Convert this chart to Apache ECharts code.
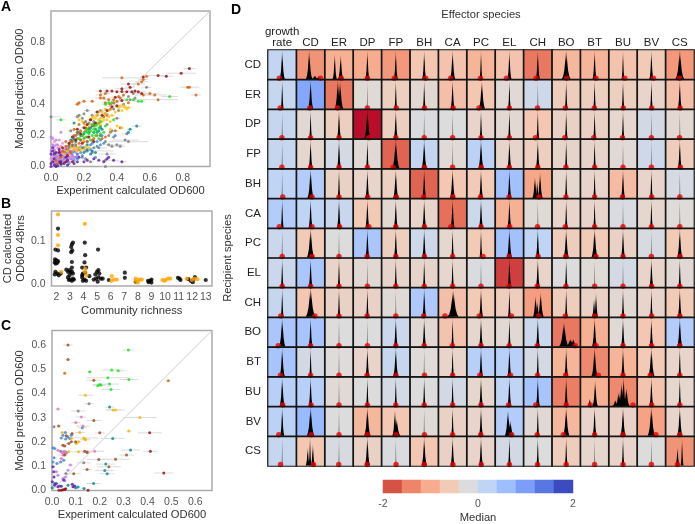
<!DOCTYPE html>
<html><head><meta charset="utf-8">
<style>html,body{margin:0;padding:0;background:#fff}#c{width:695px;height:524px}</style>
<script src="https://cdn.jsdelivr.net/npm/echarts@6/dist/echarts.min.js"></script>
</head><body><div id="c"></div>
<script>
// ---------- Panel A: [experiment, prediction, error]
const aDarkRed=[[.84,.63,.035],[.79,.6,.09],[.65,.585,.06],[.7,.58,.04],[.56,.575,.02],[.47,.53,.05],[.48,.51,.03],[.43,.5,.04],[.3,.485,.03],[.34,.485,.02],[.37,.485,.03],[.4,.48,.05],[.43,.482,.04],[.46,.48,.03],[.49,.48,.03],[.51,.485,.02],[.53,.48,.05],[.55,.47,.04],[.39,.445,.03],[.43,.425,.02],[.4,.39,.02],[.37,.385,.03],[.34,.36,.02],[.28,.35,.02],[.31,.33,.03],[.24,.3,.02],[.27,.28,.02],[.22,.27,.02],[.2,.25,.02],[.16,.24,.02],[.18,.21,.02],[.13,.19,.02],[.11,.15,.02],[.07,.12,.01],[.05,.09,.01],[.1,.07,.01],[.13,.03,.02],[.09,.03,.01],[.06,.02,.01],[.15,.17,.01],[.19,.15,.01],[.23,.19,.01],[.26,.16,.01]];
const aOrange=[[.58,.58,.01],[.43,.57,.12],[.56,.56,.03],[.55,.545,.04],[.53,.53,.04],[.83,.51,.03],[.84,.51,.06],[.88,.46,.03],[.65,.43,.12],[.63,.46,.07],[.6,.47,.05],[.56,.46,.05],[.33,.47,.03],[.3,.46,.03],[.3,.44,.03],[.32,.44,.04],[.35,.43,.03],[.33,.41,.02],[.25,.42,.02],[.2,.42,.02],[.17,.41,.02],[.16,.4,.02],[.42,.44,.03],[.4,.42,.04],[.38,.41,.03],[.36,.4,.03],[.24,.3],[.2,.28],[.17,.27],[.14,.24],[.19,.2],[.16,.18],[.14,.2],[.22,.19],[.26,.18],[.25,.17],[.28,.2],[.22,.16],[.17,.15],[.13,.13],[.1,.11],[.08,.09],[.12,.09],[.06,.06],[.03,.04],[.04,.02],[.2,.16],[.18,.17],[.15,.14],[.12,.16],[.09,.13],[.07,.1],[.42,.25],[.39,.23,.02],[.36,.22],[.33,.19],[.31,.18],[.47,.41],[.44,.46],[.41,.45],[.38,.43],[.36,.37],[.34,.33],[.32,.32],[.29,.28],[.26,.26],[.23,.25],[.21,.23],[.18,.23],[.16,.21],[.13,.16],[.11,.14],[.09,.16]];
const aGreen=[[.72,.45,.05],[.53,.42,.03],[.55,.42,.02],[.5,.43,.03],[.46,.43,.03],[.35,.41,.03],[.37,.41,.03],[.33,.4,.02],[.06,.3,.03],[.25,.27],[.27,.26],[.3,.29],[.33,.26],[.38,.3],[.29,.25],[.26,.24],[.28,.23],[.24,.23],[.22,.22],[.2,.22],[.23,.21],[.25,.2],[.27,.2],[.3,.21],[.32,.22],[.19,.2],[.17,.18],[.21,.19],[.24,.17],[.29,.18],[.26,.22],[.28,.27],[.22,.24]];
const aGold=[[.33,.37,.02],[.35,.36,.02],[.31,.35,.02],[.29,.35,.02],[.33,.34,.02],[.37,.33,.02],[.42,.39,.02],[.44,.39,.02],[.45,.38,.02],[.47,.38,.02],[.41,.38,.02],[.26,.32],[.28,.33],[.3,.31,.02],[.19,.29],[.17,.3],[.17,.12,.02],[.15,.12,.02],[.18,.11,.02],[.2,.11,.02],[.21,.13,.02],[.12,.12],[.43,.25],[.4,.26],[.36,.24],[.1,.1],[.08,.08],[.32,.3],[.35,.32],[.24,.27],[.21,.26],[.25,.31],[.27,.31],[.29,.3],[.31,.29],[.34,.3],[.39,.35],[.43,.36],[.46,.37],[.36,.29],[.3,.27],[.2,.17],[.16,.1],[.14,.11],[.23,.12]];
const aTeal=[[.52,.26,.03],[.48,.24,.02],[.47,.22],[.25,.1],[.27,.09],[.24,.08],[.22,.14],[.19,.12],[.13,.14],[.23,.24],[.26,.22],[.3,.2],[.28,.22],[.25,.26],[.3,.25],[.18,.17],[.15,.16],[.13,.07],[.08,.06],[.1,.05],[.03,.02],[.14,.28],[.16,.22],[.11,.13],[.2,.18],[.21,.25],[.24,.25],[.27,.24],[.26,.27],[.29,.23],[.23,.22],[.2,.21],[.31,.24],[.18,.2],[.14,.18],[.12,.17],[.17,.11],[.2,.09],[.22,.11],[.16,.08],[.11,.1],[.06,.09],[.05,.07],[.14,.1],[.09,.11]];
const aGray=[[.0,.32,.06],[.17,.33,.02],[.16,.32,.02],[.22,.36,.02],[.3,.36,.02],[.28,.33,.02],[.33,.34,.02],[.46,.21,.03],[.45,.17,.08],[.47,.16,.12],[.4,.14,.04],[.37,.13,.02],[.42,.13,.03],[.35,.14,.02],[.34,.08,.05],[.33,.0,.03],[.26,.12,.08],[.22,.1,.16],[.12,.23,.02],[.15,.2,.02],[.21,.05,.02],[.24,.03,.02],[.33,.04,.02],[.58,.51,.03],[.4,.31,.02],[.2,.34],[.25,.33],[.19,.31],[.21,.29],[.26,.29],[.23,.28],[.3,.26],[.34,.27],[.35,.2],[.38,.19],[.33,.16],[.29,.12],[.25,.09],[.17,.22],[.13,.17],[.11,.12],[.19,.07],[.44,.4],[.5,.47],[.47,.45],[.51,.44],[.38,.37],[.41,.36],[.48,.43]];
const aPurple=[[.43,.03,.03],[.38,.04,.03],[.35,.06],[.34,.05],[.29,.04],[.32,.03],[.26,.05],[.22,.04],[.2,.03],[.16,.03],[.17,.06],[.14,.02],[.1,.01],[.05,.03],[.01,.12],[.01,.1],[.03,.09],[.02,.05],[.0,.08],[.01,.03],[.02,.01],[.04,.005],[.08,.02],[.06,.07],[.05,.11],[.09,.06],[.0,.02],[.03,.0],[.1,.04],[.0,.0],[.06,.03],[.02,.08]];
const aPink=[[.05,.17,.02],[.02,.16],[.03,.14],[.05,.12],[.07,.15],[.1,.1],[.08,.08],[.04,.07],[.02,.06],[.11,.08],[.13,.07],[.06,.05],[.09,.05],[.03,.03],[.18,.13],[.16,.11],[.06,.09],[.04,.04],[.12,.06],[.0,.05],[.06,.13],[.08,.11],[.1,.07],[.02,.1],[.07,.03],[.04,.12],[.03,.08],[.09,.1],[.13,.1],[.01,.04],[.05,.06],[.08,.06],[.11,.05]];
const aViolet=[[.0,.19,.02],[.01,.18],[.03,.17],[.01,.14],[.06,.22],[.05,.1],[.02,.11],[.12,.1],[.1,.13],[.09,.12],[.15,.09],[.13,.05],[.07,.04],[.05,.02],[.11,.03],[.03,.06],[.07,.07],[.04,.09],[.01,.07],[.08,.03],[.02,.02],[.14,.11],[.16,.07],[.06,.08],[.09,.09],[.02,.13],[.04,.14],[.07,.1],[.1,.06],[.12,.08],[.03,.04],[.06,.06],[.0,.1],[.14,.06]];
const aBlue=[[.31,.2],[.3,.17],[.28,.16],[.32,.15],[.3,.14],[.28,.13],[.24,.14],[.24,.11],[.2,.12],[.18,.09],[.13,.09],[.15,.06],[.12,.05],[.1,.03],[.05,.05],[.08,.05],[.07,.02],[.02,.03],[.03,.01],[.06,.01],[.27,.06],[.37,.23],[.39,.2],[.04,.06],[.09,.08],[.11,.06],[.22,.16],[.25,.15],[.21,.1],[.17,.12],[.15,.13],[.16,.05],[.19,.06],[.14,.04],[.02,.09],[.01,.05],[.06,.04],[.1,.09],[.03,.07],[.11,.02]];

// ---------- Panel B: [richness (jittered), OD600]
const bBlack=[[2.12,.129],[1.93,.08],[2.12,.078],[1.9,.057],[2,.055],[2.12,.053],[1.88,.05],[2.07,.049],[1.95,.047],[1.93,.028],[2.07,.024],[1.88,.022],[2.17,.02],[2.32,.024],[3.22,.096],[3.14,.092],[3.09,.086],[3.17,.078],[3.09,.074],[3.14,.051],[2.73,.033],[2.97,.032],[3.14,.029],[2.85,.028],[3.05,.026],[3.22,.024],[2.97,.02],[3.14,.038],[2.85,.015],[3.02,.01],[3.22,.012],[2.92,.009],[3.14,.007],[3.29,.01],[4.09,.096],[4.12,.067],[4.07,.05],[3.9,.038],[4.19,.038],[3.95,.024],[4.12,.026],[4.43,.018],[3.9,.015],[4.07,.01],[3.95,.007],[4.19,.007],[3.9,.02],[5.07,.08],[5.09,.032],[4.99,.028],[4.87,.022],[4.75,.01],[4.92,.012],[5.09,.015],[5.28,.012],[5.04,.005],[5.41,.012],[5.16,.024],[5.86,.009],[7.04,.026],[7.04,.014],[7.84,.005],[9,.01],[8.93,.007],[8.75,.007],[9,.003],[8.8,.004],[10.95,.014],[11.07,.012],[11.14,.009],[11.72,.011],[11.9,.007],[12.04,.004],[12.2,.016],[12.1,.01],[13,.009]];
const bOrange=[[2.12,.162],[2.12,.114],[2.12,.09],[2.36,.028],[4.09,.14],[4.1,.028],[4.12,.035],[4.2,.02],[6.08,.018],[6.06,.007],[6.25,.01],[6.45,.01],[7.84,.012],[8,.009],[8.15,.01],[8.3,.01],[7.84,.007],[8,.003],[9.81,.009],[10.03,.009],[10.22,.012],[10.39,.012],[9.96,.007],[11.6,.012],[11.98,.009],[12.39,.011],[12.17,.012]];

// ---------- Panel C: [experiment, prediction, error]
const cGreen=[[.32,.58,.025],[.158,.49,.01],[.25,.497,.04],[.277,.494,.03],[.234,.465,.09],[.322,.458,.04],[.241,.439,.04],[.199,.437,.03],[.192,.432,.02],[.205,.435,.02],[.247,.417,.04]];
const cDarkRed=[[.409,.238,.05],[.412,.162,.03],[.468,.072,.04],[.151,.001,.01],[.029,.001,.01],[.039,.001,.01],[.046,.003,.01],[.053,.004,.01],[.057,.007,.01]];
const cBrown=[[.067,.6,.02],[.067,.54,.01],[.175,.455,.03],[.175,.289,.03],[.028,.266,.01],[.2,.238,.02],[.312,.146,.03],[.266,.129,.06],[.196,.128,.05],[.238,.098,.05],[.147,.087,.02],[.091,.069,.03],[.046,.187,.01],[.053,.184,.01],[.07,.194,.01],[.081,.201,.01],[.099,.201,.02],[.137,.162,.03],[.147,.157,.02],[.053,.146,.01],[.06,.226,.01],[.084,.235,.01]];
const cOrange=[[.053,.484,.005],[.487,.453,.01]];
const cGold=[[.14,.393,.03],[.256,.332,.03],[.266,.332,.04],[.368,.301,.07],[.322,.245,.01],[.043,.239,.01],[.116,.239,.02],[.102,.194,.01],[.111,.201,.01],[.133,.217,.06],[.141,.209,.02],[.137,.212,.02],[.111,.16,.02],[.07,.16,.02],[.081,.215,.01]];
const cTeal=[[.241,.344,.02],[.254,.215,.05],[.329,.167,.04],[.225,.109,.04],[.221,.083,.04],[.231,.069,.03],[.174,.029,.03],[.134,.008,.01],[.109,.014,.01],[.099,.011,.01],[.067,.022,.01],[.011,.029,.01],[.032,.019,.01],[.001,.011,.01]];
const cGray=[[.155,.358,.02],[.11,.328,.03],[.008,.263,.01],[.133,.114,.03],[.058,.07,.01]];
const cPink=[[.025,.336,.01],[.123,.303,.02],[.1,.28,.02],[.13,.266,.03],[.046,.16,.01],[.053,.162,.01],[.043,.156,.01],[.056,.153,.01],[.046,.146,.02],[.179,.162,.04],[.147,.16,.02],[.025,.166,.01],[.039,.132,.01]];
const cBlue=[[.039,.217,.01],[.046,.228,.01],[.057,.212,.01],[.066,.221,.01],[.081,.228,.01],[.074,.215,.01],[.056,.239,.01],[.127,.259,.02],[.011,.173,.01],[.004,.176,.01],[.036,.162,.01],[.06,.157,.01],[.008,.135,.01],[.036,.118,.01],[.004,.118,.01],[.021,.111,.01],[.049,.125,.01]];
const cViolet=[[.077,.105,.01],[.067,.084,.01],[.046,.05,.01],[.056,.056,.01],[.053,.04,.01],[.025,.063,.01],[.018,.077,.01]];
const cPurple=[[.004,.098,.01],[.007,.077,.01],[.008,.056,.01],[.001,.036,.01],[.011,.022,.01],[.025,.015,.01],[.039,.018,.01],[.018,.029,.01],[.085,.026,.01],[.095,.019,.01],[.088,.015,.01],[.049,.043,.01]];

// ---------- Panel D
const effectors=['growth\nrate','CD','ER','DP','FP','BH','CA','PC','EL','CH','BO','BT','BU','BV','CS'];
const recipients=['CD','ER','DP','FP','BH','CA','PC','EL','CH','BO','BT','BU','BV','CS'];
const medians=[
[.35,-1.05,-.75,-.8,-1,-.45,-.5,-.7,-.5,-1.3,-.65,-.7,-.5,-.4,-1],
[.3,1.1,-1.3,-.05,-.3,-.12,-.55,-.45,-.08,.2,-.35,-.3,-.3,-.2,-.55],
[.3,-.1,-.3,-1.95,-.3,.05,0,-.2,-.12,-.45,-.25,-.25,-.15,.15,-.12],
[.3,-.15,.12,-.08,-1.45,.35,-.05,.45,-.18,-.3,-.18,-.18,-.08,.2,-.35],
[.4,.55,-.25,-.2,-.28,-1.45,-.45,-.4,.75,-.85,-.15,-.2,-.6,-.2,.1],
[.55,.4,.28,-.4,-.12,-.2,-1.35,.22,-.75,-.05,-.2,-.2,.06,-.15,-.03],
[.25,-.4,.02,.65,-.3,.22,-.15,-.4,.75,.4,-.35,-.4,-.25,.08,-.4],
[.25,.65,-.2,-.1,-.18,-.18,-.15,.05,-1.7,-.2,0,-.05,.12,-.2,-.1],
[.3,-.45,-.25,-.25,-.05,.6,-.55,-.4,-.35,-.95,-.35,-.25,-.1,-.2,-.4],
[.65,.7,0,0,.25,-.1,-.5,-.15,-.1,.25,-1.3,-.75,-.05,-.45,.55],
[.7,.15,-.02,-.2,.3,-.03,-.2,.5,.5,.12,-.7,-1.15,-.7,-.4,-.2],
[.5,.5,-.07,0,.12,.02,.15,-.15,.4,.7,-1.25,-.75,-1.15,-.5,-.15],
[.45,.85,0,-.65,-.45,-.05,-.25,-.2,.55,-.1,-.65,-.2,-.25,-.9,-.2],
[.3,-.45,.08,-.25,.05,-.45,-.25,-.2,.15,.02,-.35,-.15,-.2,0,-1.05]];
// position of the red median marker within each cell, relative to the cell's centre
const markers=[
[-.1,.35,.08,0,-.05,.05,-.07,-.02,-.1,-.06,.02,.05,.06,.07,-.01],
[-.07,-.03,-.05,0,.02,.01,.02,-.07,0,-.01,-.03,-.01,.01,.01,.01],
[-.01,0,0,.05,0,0,0,0,0,-.08,-.05,-.03,-.02,0,-.01],
[-.01,0,0,0,-.1,.01,0,.01,0,0,-.01,0,0,0,.02],
[.02,.05,0,.01,.02,-.02,.01,-.02,-.01,.04,-.01,0,-.02,.01,0],
[-.1,.05,.02,.05,0,.01,-.06,0,.01,-.01,-.03,0,0,0,0],
[0,.05,0,-.01,0,.01,0,.07,-.01,.01,-.02,.05,0,0,.01],
[0,0,0,0,0,0,0,0,-.01,-.02,-.01,0,0,.01,0],
[-.05,.15,0,-.01,0,-.02,-.27,-.06,.07,.03,-.03,0,0,.01,0],
[-.14,0,0,0,0,0,-.01,0,-.01,-.02,.32,.05,0,.01,0],
[-.06,0,0,-.01,0,.01,0,-.04,.04,-.01,-.02,.13,0,-.04,0],
[.02,.02,0,0,0,0,0,0,-.03,-.07,0,-.15,.35,.01,0],
[-.12,.02,0,0,.01,.01,0,-.01,.08,-.02,-.1,0,0,.16,0],
[-.06,.1,-.01,-.01,.01,0,.01,.01,0,-.01,0,0,0,0,-.08]];
// spread of each histogram's main peak
const spreads=[
[4,5,3,3,3,3,4,2,3,3,7,3,2,3,7],
[2,4,5,1,2,2,3,4,2,1,2,2,2,2,3],
[1,2,3,5,3,1,1,2,2,2,2,2,2,1,1],
[1,3,3,2,6,4,1,4,3,3,2,2,1,1,3],
[1,5,2,3,4,3,4,3,3,4,2,2,3,2,1],
[2,3,3,3,3,3,3,3,3,1,2,2,1,2,1],
[1,6,1,3,3,3,2,2,4,3,4,5,3,1,4],
[2,3,2,1,2,2,2,1,3,3,2,1,1,3,2],
[2,8,2,2,1,3,8,3,2,4,2,2,2,2,3],
[5,3,1,1,3,3,2,3,2,3,7,4,3,3,4],
[4,2,1,3,4,1,2,3,3,2,3,5,3,5,2],
[4,3,1,2,2,2,2,3,3,3,3,3,5,3,2],
[3,6,1,5,4,1,2,3,6,2,5,3,4,6,4],
[1,3,1,4,1,4,3,3,2,2,2,1,2,1,3]];
// cells whose histogram has several peaks: [row, col, offset, height, spread]
const peaks=[
[0,1,-.05,.95,5],[0,1,.15,.12,6],[0,1,.28,.1,4],
[0,2,-.15,.85,3],[0,2,.06,.8,4],
[1,2,-.04,.95,5],[1,2,.04,.9,5],
[1,7,.03,.92,5],
[4,9,-.1,.7,4],[4,9,-.02,.55,3],[4,9,.08,.85,4],
[8,6,.02,.88,9],[8,6,-.08,.12,8],
[8,9,-.08,.7,4],[8,9,-.02,.5,4],[8,9,.1,.8,5],
[8,11,-.02,.6,3],[8,11,.05,.8,3],
[9,10,-.08,.8,8],[9,10,.15,.25,8],[9,10,.25,.25,6],
[11,11,-.17,.25,3],[11,11,.02,.85,4],
[11,12,-.27,.2,5],[11,12,-.15,.45,6],[11,12,-.05,.75,5],[11,12,.02,.95,4],[11,12,.12,.6,5],
[12,4,-.03,.85,4],[12,4,.03,.55,6],
[12,8,-.05,.85,5],[12,8,.03,.5,6],
[13,1,-.1,.6,3],[13,1,-.02,.95,2],[13,1,.08,.7,3],
[13,14,-.08,.6,3],[13,14,.08,.9,2]];
const legendBins=[-1.6,-1.2,-.8,-.4,0,.4,.8,1.2,1.6,2];
const legendLabels=[-2,0,2];
const coolwarm=['#b40426','#d65244','#ee8468','#f7ac8e','#f2cbb7','#dddcdc','#c0d4f5','#9ebeff','#7b9ff9','#5977e3','#3b4cc0'];

// ---------- option building
const font='"Liberation Sans",Arial,sans-serif';
const tickLabel={color:'#555',fontSize:10.5,fontFamily:font,margin:6};
const nameStyle={color:'#333',fontSize:11.2,fontFamily:font};
function panelAxis(gridIndex,min,max,name,gap,ticks){
  return {type:'value',gridIndex,min,max,name,nameLocation:'middle',nameGap:gap,nameTextStyle:nameStyle,
    axisLine:{show:false},axisTick:{show:false},splitLine:{show:false},
    axisLabel:Object.assign({},tickLabel,{customValues:ticks,formatter:v=>Number(v).toFixed(1)})};
}
const groupsA=[['#7a7a7a',aGray],['#00858f',aTeal],['#3f84d6',aBlue],['#f08ac0',aPink],['#b87bf2',aViolet],['#5a16a6',aPurple],['#d65f00',aOrange],['#ffc400',aGold],['#12e51a',aGreen],['#8f0a0a',aDarkRed]];
const groupsC=[['#7a7a7a',cGray],['#00858f',cTeal],['#3f84d6',cBlue],['#ec6fb0',cPink],['#b87bf2',cViolet],['#5a16a6',cPurple],['#f5b400',cGold],['#d65f00',cOrange],['#9a4a12',cBrown],['#12e51a',cGreen],['#8f0a0a',cDarkRed]];

function errorSeries(groups,idx){
  const data=[];groups.forEach(g=>g[1].forEach(p=>{if(p.length>2)data.push(p);}));
  return {type:'custom',xAxisIndex:idx,yAxisIndex:idx,silent:true,z:2,clip:true,data,
    renderItem(params,api){
      const a=api.coord([api.value(0)-api.value(2),api.value(1)]);
      const b=api.coord([api.value(0)+api.value(2),api.value(1)]);
      return {type:'line',shape:{x1:a[0],y1:a[1],x2:b[0],y2:b[1]},style:{stroke:'#dcdcdc',lineWidth:1}};
    }};
}
function scatterSeries(groups,idx){
  return groups.map(g=>({type:'scatter',xAxisIndex:idx,yAxisIndex:idx,symbolSize:3,silent:true,z:3,clip:false,
    itemStyle:{color:g[0]},data:g[1].map(p=>[p[0],p[1]])}));
}
function diagonal(idx,p){
  return {type:'line',xAxisIndex:idx,yAxisIndex:idx,data:p,showSymbol:false,silent:true,z:1,lineStyle:{color:'#cfcfcf',width:1}};
}

const heat=[];medians.forEach((r,i)=>r.forEach((v,j)=>heat.push([j,i,v])));
const spikes=[];
medians.forEach((r,i)=>r.forEach((v,j)=>{
  const own=peaks.filter(p=>p[0]===i&&p[1]===j);
  if(own.length) own.forEach(p=>spikes.push([j,i,p[2],p[3],p[4]]));
  else spikes.push([j,i,0,.95,spreads[i][j]]);
}));
const dots=[];markers.forEach((r,i)=>r.forEach((m,j)=>dots.push([j+.5+m,i+.95])));

const profile=[[0,1],[.1,.72],[.3,.45],[.6,.26],[.85,.13],[1,.05]];
const spikeFill=new echarts.graphic.LinearGradient(0,1,0,0,[{offset:0,color:'#000'},{offset:.6,color:'#000'},{offset:1,color:'rgba(0,0,0,.15)'}]);
function renderSpike(params,api){
  const col=api.value(0),row=api.value(1),off=api.value(2),h=api.value(3),s=api.value(4)*.02+.012;
  const cx=col+.5+off,base=row+.98,left=[],right=[];
  profile.forEach(p=>{
    left.push(api.coord([cx-s*p[1],base-h*p[0]]));
    right.unshift(api.coord([cx+s*p[1],base-h*p[0]]));
  });
  return {type:'polygon',shape:{points:left.concat(right)},style:{fill:spikeFill,opacity:api.value(4)<=1?.4:1}};
}

const option={
  animation:false,backgroundColor:'#fff',
  title:[['A',1,0],['B',1,197],['C',1,319],['D',231,3]].map(t=>({text:t[0],left:t[1],top:t[2],padding:0,
    textStyle:{fontFamily:font,fontWeight:'bold',fontSize:14,color:'#000'}})),
  grid:[
    {left:51,top:11,width:159,height:155.5,show:true,borderColor:'#aaa',borderWidth:1.5,backgroundColor:'#fff'},
    {left:50,top:211,width:162,height:75,show:true,borderColor:'#aaa',borderWidth:1.5,backgroundColor:'#fff'},
    {left:52,top:330.5,width:160,height:160,show:true,borderColor:'#aaa',borderWidth:1.5,backgroundColor:'#fff'},
    {left:268,top:50,width:426,height:416},
    {left:268,top:50,width:426,height:416},
    {left:383,top:480,width:190,height:13},
    {left:383,top:480,width:190,height:13}
  ],
  xAxis:[
    panelAxis(0,0,.965,'Experiment calculated OD600',19,[0,.2,.4,.6,.8]),
    Object.assign(panelAxis(1,1.64,13.46,'Community richness',19,[2,3,4,5,6,7,8,9,10,11,12,13]),{axisLabel:Object.assign({},tickLabel,{customValues:[2,3,4,5,6,7,8,9,10,11,12,13],formatter:v=>String(v)})}),
    panelAxis(2,0,.67,'Experiment calculated OD600',19,[0,.1,.2,.3,.4,.5,.6]),
    {type:'category',gridIndex:3,position:'top',data:effectors,name:'Effector species',nameLocation:'middle',nameGap:17,nameTextStyle:nameStyle,
      axisLine:{show:false},axisTick:{show:false},axisLabel:{color:'#222',fontSize:11.5,fontFamily:font,margin:2,lineHeight:11,interval:0},splitLine:{show:false}},
    {type:'value',gridIndex:4,min:0,max:15,show:false},
    {type:'category',gridIndex:5,data:legendBins.map(String),show:false},
    {type:'value',gridIndex:6,min:-2,max:2,name:'Median',nameLocation:'middle',nameGap:20,nameTextStyle:nameStyle,
      axisLine:{show:false},axisTick:{show:false},splitLine:{show:false},
      axisLabel:Object.assign({},tickLabel,{customValues:legendLabels,formatter:v=>String(v),margin:7})}
  ],
  yAxis:[
    panelAxis(0,0,1,'Model prediction OD600',26,[0,.2,.4,.6,.8]),
    Object.assign(panelAxis(1,-.005,.17,'CD calculated\nOD600 48hrs',19,[0,.1]),{nameTextStyle:Object.assign({},nameStyle,{lineHeight:13})}),
    panelAxis(2,0,.66,'Model prediction OD600',27,[0,.1,.2,.3,.4,.5,.6]),
    {type:'category',gridIndex:3,inverse:true,data:recipients,name:'Recipient species',nameLocation:'middle',nameGap:24,nameTextStyle:nameStyle,
      axisLine:{show:false},axisTick:{show:false},axisLabel:{color:'#222',fontSize:11.5,fontFamily:font,margin:7,interval:0},splitLine:{show:false}},
    {type:'value',gridIndex:4,min:0,max:14,inverse:true,show:false},
    {type:'category',gridIndex:5,data:['m'],show:false},
    {type:'value',gridIndex:6,min:0,max:1,show:false}
  ],
  visualMap:[{type:'continuous',show:false,min:-2,max:2,dimension:2,seriesIndex:[0,1],inRange:{color:coolwarm}}],
  series:[
    {type:'heatmap',xAxisIndex:3,yAxisIndex:3,data:heat,silent:true,z:1,progressive:0},
    {type:'heatmap',xAxisIndex:5,yAxisIndex:5,data:legendBins.map((v,i)=>[i,0,v]),silent:true,z:1},
    {type:'custom',xAxisIndex:4,yAxisIndex:4,data:spikes,renderItem:renderSpike,silent:true,z:2,clip:false,progressive:0},
    {type:'scatter',xAxisIndex:4,yAxisIndex:4,data:dots,symbolSize:5.5,itemStyle:{color:'#f00000'},silent:true,z:3,clip:false},
    {type:'heatmap',xAxisIndex:3,yAxisIndex:3,data:heat,silent:true,z:4,progressive:0,
      itemStyle:{color:'rgba(0,0,0,0)',borderColor:'#151515',borderWidth:1.2}},
    diagonal(0,[[0,0],[.965,1]]),diagonal(2,[[0,0],[.67,.66]]),
    errorSeries(groupsA,0),errorSeries(groupsC,2)
  ].concat(scatterSeries(groupsA,0),scatterSeries(groupsC,2),[
    {type:'scatter',xAxisIndex:1,yAxisIndex:1,data:bBlack,symbolSize:4.2,itemStyle:{color:'#000'},silent:true,z:3},
    {type:'scatter',xAxisIndex:1,yAxisIndex:1,data:bOrange,symbolSize:4.2,itemStyle:{color:'#ffa500'},silent:true,z:3}
  ])
};
const chart=echarts.init(document.getElementById('c'),null,{renderer:'canvas'});
chart.setOption(option);
</script></body></html>
